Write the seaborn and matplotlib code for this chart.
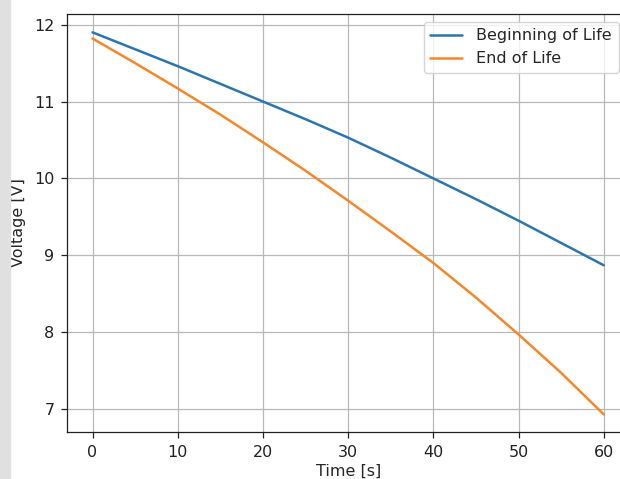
import numpy as np
import pandas as pd
import matplotlib
matplotlib.use("Agg")
import matplotlib.pyplot as plt
import seaborn as sns

# values, every 5 s
time_s = [0, 5, 10, 15, 20, 25, 30, 35, 40, 45, 50, 55, 60]
v_bol = [11.90, 11.68, 11.46, 11.23, 11.00, 10.77, 10.53, 10.27, 10.00, 9.73, 9.45, 9.16, 8.87]
v_eol = [11.82, 11.50, 11.17, 10.83, 10.47, 10.10, 9.71, 9.31, 8.90, 8.45, 7.97, 7.47, 6.93]
series_names = ["Beginning of Life", "End of Life"]
x_ticks = [0, 10, 20, 30, 40, 50, 60]
y_ticks = [7, 8, 9, 10, 11, 12]

df = pd.DataFrame({
    "Time": time_s * 2,
    "Voltage": v_bol + v_eol,
    "Series": [series_names[0]] * len(time_s) + [series_names[1]] * len(time_s),
})

sns.set_style("ticks")
plt.rcParams["font.family"] = ["DejaVu Sans"]
fs = 11.5

fig = plt.figure(figsize=(6.2, 4.79), dpi=100)
# light gray strip at the far left of the screenshot
fig.patches.append(plt.Rectangle((0, 0), 0.016, 1, transform=fig.transFigure,
                                 color="#e0e0e0", zorder=0))
ax = fig.add_axes([0.108, 0.098, 0.907, 0.873])

sns.lineplot(data=df, x="Time", y="Voltage", hue="Series",
             palette=["#2c75ad", "#f5872a"], linewidth=1.8, ax=ax)

ax.set_xlim(-3, 63)
ax.set_ylim(6.70, 12.14)
ax.set_xticks(x_ticks)
ax.set_yticks(y_ticks)
ax.grid(True, color="#b8b8b8", linewidth=0.9)
ax.set_xlabel("Time [s]", fontsize=fs, labelpad=3)
ax.set_ylabel("Voltage [V]", fontsize=fs, labelpad=6)
ax.tick_params(labelsize=fs, length=4, width=0.9, pad=5, colors="#222222")
for s in ax.spines.values():
    s.set_linewidth(0.9)
    s.set_color("#222222")
ax.legend(title=None, loc="upper right", fontsize=fs, framealpha=0.8,
          borderaxespad=0.5, handlelength=2.0, handletextpad=0.9,
          bbox_to_anchor=(0.995, 1.0))

fig.savefig("out.png", dpi=100)
